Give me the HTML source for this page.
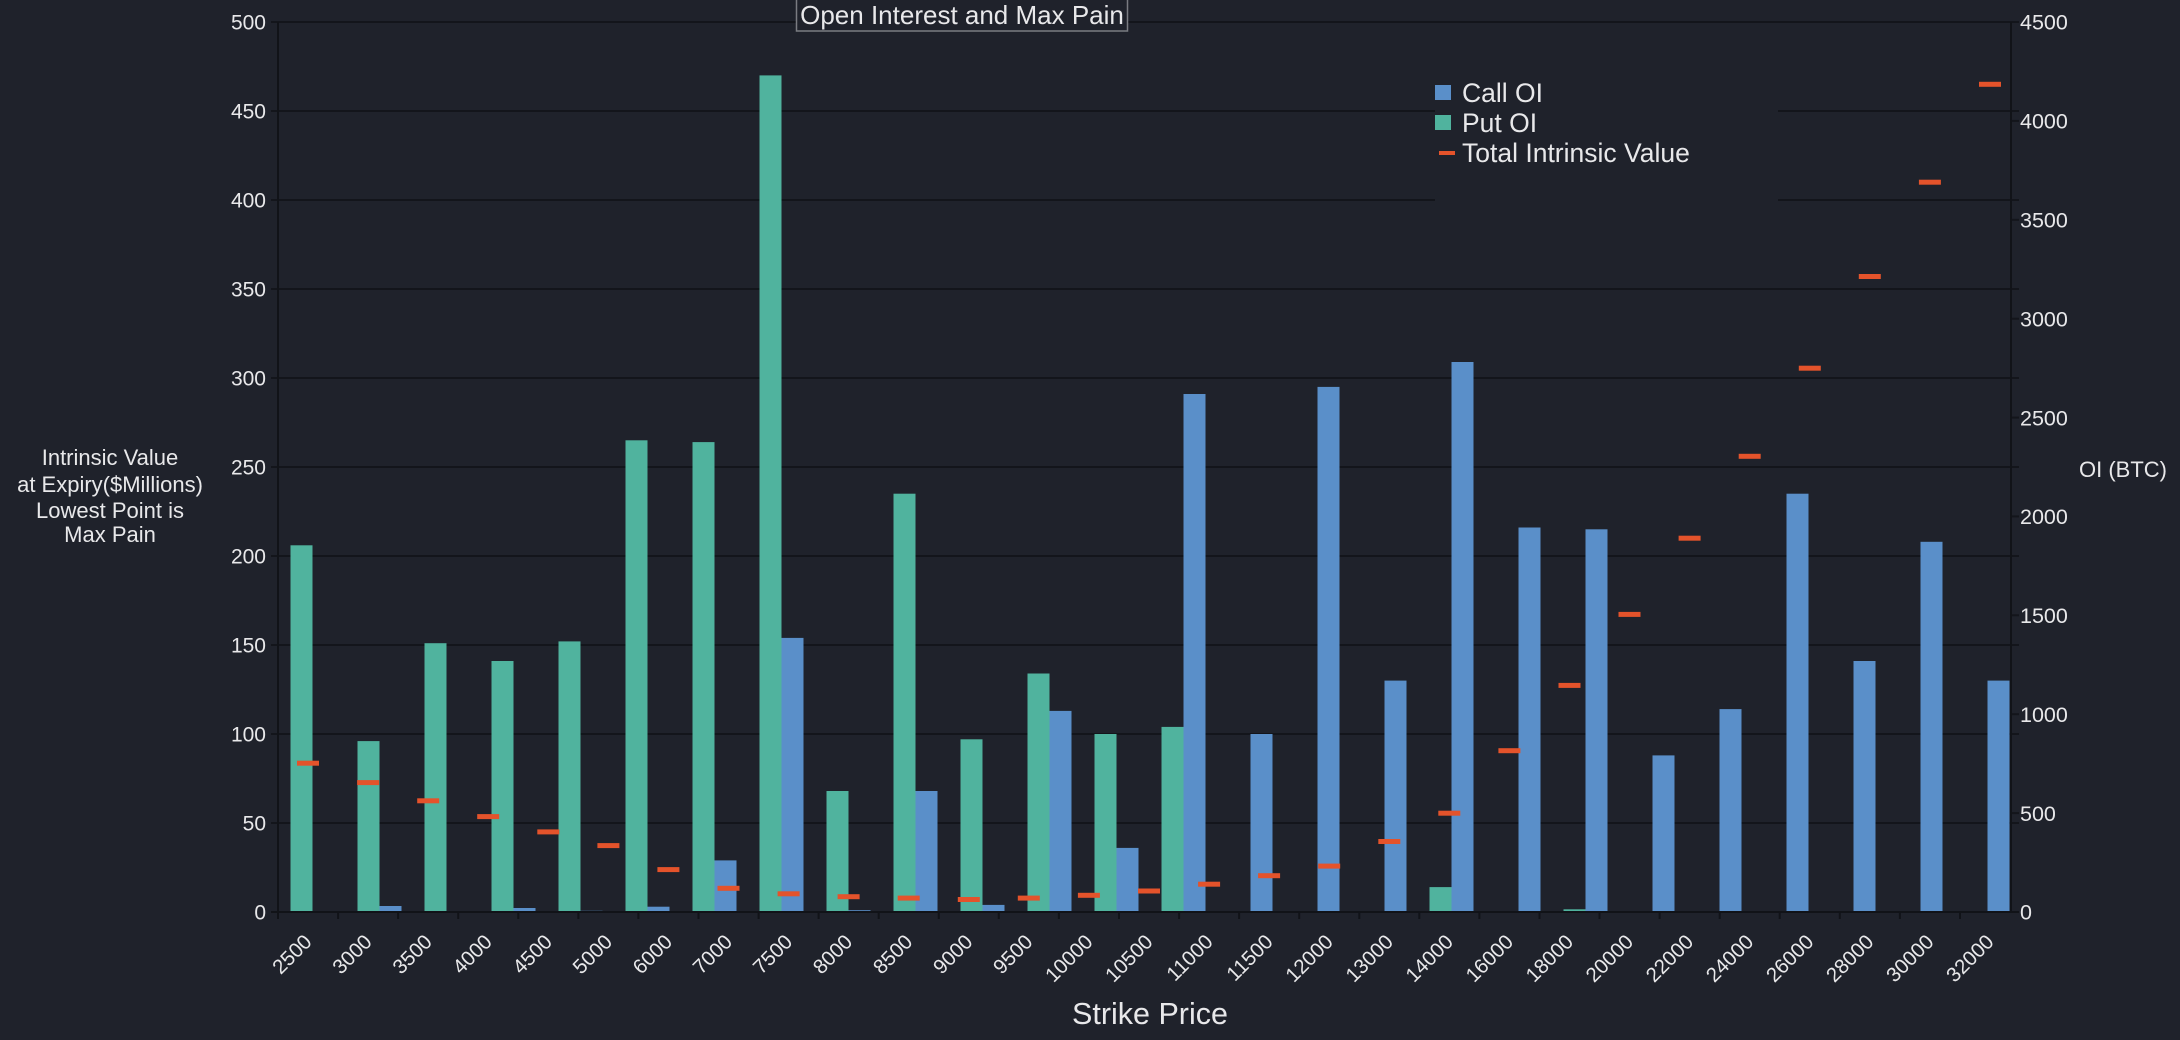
<!DOCTYPE html>
<html><head><meta charset="utf-8"><style>
html,body{margin:0;padding:0;background:#1f222b;}
svg{display:block;}
text{font-family:"Liberation Sans",Arial,sans-serif;fill:#e8e8ea;}
</style></head><body>
<svg width="2180" height="1040" viewBox="0 0 2180 1040" xmlns="http://www.w3.org/2000/svg">
<rect x="0" y="0" width="2180" height="1040" fill="#1f222b"/>
<!-- gridlines -->
<g stroke="#13151b" stroke-width="2">
<line x1="271" y1="823" x2="2019" y2="823"/>
<line x1="271" y1="734" x2="2019" y2="734"/>
<line x1="271" y1="645" x2="2019" y2="645"/>
<line x1="271" y1="556" x2="2019" y2="556"/>
<line x1="271" y1="467" x2="2019" y2="467"/>
<line x1="271" y1="378" x2="2019" y2="378"/>
<line x1="271" y1="289" x2="2019" y2="289"/>
<line x1="271" y1="200" x2="2019" y2="200"/>
<line x1="271" y1="111" x2="2019" y2="111"/>
<line x1="271" y1="22" x2="2019" y2="22"/>
</g>
<!-- right ticks -->
<g stroke="#13151b" stroke-width="2">
<line x1="2011" y1="813.1" x2="2019" y2="813.1"/>
<line x1="2011" y1="714.2" x2="2019" y2="714.2"/>
<line x1="2011" y1="615.3" x2="2019" y2="615.3"/>
<line x1="2011" y1="516.4" x2="2019" y2="516.4"/>
<line x1="2011" y1="417.6" x2="2019" y2="417.6"/>
<line x1="2011" y1="318.7" x2="2019" y2="318.7"/>
<line x1="2011" y1="219.8" x2="2019" y2="219.8"/>
<line x1="2011" y1="120.9" x2="2019" y2="120.9"/>
</g>
<!-- legend box background -->
<rect x="1435" y="60" width="343" height="150" fill="#1f222b"/>
<!-- Put OI (green) -->
<g fill="#50b39e">
<rect x="290.5" y="545.3" width="22" height="366.7"/>
<rect x="357.5" y="741.1" width="22" height="170.9"/>
<rect x="424.5" y="643.2" width="22" height="268.8"/>
<rect x="491.5" y="661" width="22" height="251"/>
<rect x="558.5" y="641.4" width="22" height="270.6"/>
<rect x="625.5" y="440.3" width="22" height="471.7"/>
<rect x="692.5" y="442.1" width="22" height="469.9"/>
<rect x="759.5" y="75.4" width="22" height="836.6"/>
<rect x="826.5" y="791" width="22" height="121"/>
<rect x="893.5" y="493.7" width="22" height="418.3"/>
<rect x="960.5" y="739.3" width="22" height="172.7"/>
<rect x="1027.5" y="673.5" width="22" height="238.5"/>
<rect x="1094.5" y="734" width="22" height="178"/>
<rect x="1161.5" y="726.9" width="22" height="185.1"/>
<rect x="1362.5" y="911" width="22" height="1"/>
<rect x="1429.5" y="887.1" width="22" height="24.9"/>
<rect x="1496.5" y="911" width="22" height="1"/>
<rect x="1563.5" y="909.3" width="22" height="2.7"/>
<rect x="1630.5" y="911" width="22" height="1"/>
</g>
<!-- Call OI (blue) -->
<g fill="#5a8fc9">
<rect x="379.5" y="906" width="22" height="6"/>
<rect x="513.5" y="908" width="22" height="4"/>
<rect x="580.5" y="910.8" width="22" height="1.2"/>
<rect x="647.5" y="906.7" width="22" height="5.3"/>
<rect x="714.5" y="860.4" width="22" height="51.6"/>
<rect x="781.5" y="637.9" width="22" height="274.1"/>
<rect x="848.5" y="910.2" width="22" height="1.8"/>
<rect x="915.5" y="791" width="22" height="121"/>
<rect x="982.5" y="904.9" width="22" height="7.1"/>
<rect x="1049.5" y="710.9" width="22" height="201.1"/>
<rect x="1116.5" y="847.9" width="22" height="64.1"/>
<rect x="1183.5" y="394" width="22" height="518"/>
<rect x="1250.5" y="734" width="22" height="178"/>
<rect x="1317.5" y="386.9" width="22" height="525.1"/>
<rect x="1384.5" y="680.6" width="22" height="231.4"/>
<rect x="1451.5" y="362" width="22" height="550"/>
<rect x="1518.5" y="527.5" width="22" height="384.5"/>
<rect x="1585.5" y="529.3" width="22" height="382.7"/>
<rect x="1652.5" y="755.4" width="22" height="156.6"/>
<rect x="1719.5" y="709.1" width="22" height="202.9"/>
<rect x="1786.5" y="493.7" width="22" height="418.3"/>
<rect x="1853.5" y="661" width="22" height="251"/>
<rect x="1920.5" y="541.8" width="22" height="370.2"/>
<rect x="1987.5" y="680.6" width="22" height="231.4"/>
</g>
<!-- Total Intrinsic Value dashes -->
<g fill="#e4532b">
<rect x="297.0" y="760.7" width="22" height="5"/>
<rect x="357.1" y="780.1" width="22" height="5"/>
<rect x="417.2" y="798.3" width="22" height="5"/>
<rect x="477.2" y="814.1" width="22" height="5"/>
<rect x="537.3" y="829.4" width="22" height="5"/>
<rect x="597.4" y="843.1" width="22" height="5"/>
<rect x="657.4" y="867.1" width="22" height="5"/>
<rect x="717.5" y="885.8" width="22" height="5"/>
<rect x="777.6" y="891.3" width="22" height="5"/>
<rect x="837.6" y="894.2" width="22" height="5"/>
<rect x="897.7" y="895.6" width="22" height="5"/>
<rect x="957.8" y="897.0" width="22" height="5"/>
<rect x="1017.8" y="895.6" width="22" height="5"/>
<rect x="1077.9" y="892.8" width="22" height="5"/>
<rect x="1138.0" y="888.5" width="22" height="5"/>
<rect x="1198.1" y="881.7" width="22" height="5"/>
<rect x="1258.1" y="873.2" width="22" height="5"/>
<rect x="1318.2" y="863.6" width="22" height="5"/>
<rect x="1378.3" y="839.0" width="22" height="5"/>
<rect x="1438.3" y="810.7" width="22" height="5"/>
<rect x="1498.4" y="748.2" width="22" height="5"/>
<rect x="1558.5" y="682.9" width="22" height="5"/>
<rect x="1618.5" y="611.9" width="22" height="5"/>
<rect x="1678.6" y="535.7" width="22" height="5"/>
<rect x="1738.7" y="453.8" width="22" height="5"/>
<rect x="1798.8" y="365.7" width="22" height="5"/>
<rect x="1858.8" y="274.0" width="22" height="5"/>
<rect x="1918.9" y="179.7" width="22" height="5"/>
<rect x="1979.0" y="81.8" width="22" height="5"/>
</g>
<!-- axes -->
<g stroke="#111318" stroke-width="2">
<line x1="278" y1="22" x2="278" y2="913"/>
<line x1="2011" y1="22" x2="2011" y2="913"/>
<line x1="271" y1="912" x2="2019" y2="912"/>
</g>
<!-- x ticks -->
<g stroke="#111318" stroke-width="2">
<line x1="278" y1="912" x2="278" y2="919"/>
<line x1="338.1" y1="912" x2="338.1" y2="919"/>
<line x1="398.1" y1="912" x2="398.1" y2="919"/>
<line x1="458.2" y1="912" x2="458.2" y2="919"/>
<line x1="518.3" y1="912" x2="518.3" y2="919"/>
<line x1="578.4" y1="912" x2="578.4" y2="919"/>
<line x1="638.4" y1="912" x2="638.4" y2="919"/>
<line x1="698.5" y1="912" x2="698.5" y2="919"/>
<line x1="758.6" y1="912" x2="758.6" y2="919"/>
<line x1="818.6" y1="912" x2="818.6" y2="919"/>
<line x1="878.7" y1="912" x2="878.7" y2="919"/>
<line x1="938.8" y1="912" x2="938.8" y2="919"/>
<line x1="998.8" y1="912" x2="998.8" y2="919"/>
<line x1="1058.9" y1="912" x2="1058.9" y2="919"/>
<line x1="1119.0" y1="912" x2="1119.0" y2="919"/>
<line x1="1179.1" y1="912" x2="1179.1" y2="919"/>
<line x1="1239.1" y1="912" x2="1239.1" y2="919"/>
<line x1="1299.2" y1="912" x2="1299.2" y2="919"/>
<line x1="1359.3" y1="912" x2="1359.3" y2="919"/>
<line x1="1419.3" y1="912" x2="1419.3" y2="919"/>
<line x1="1479.4" y1="912" x2="1479.4" y2="919"/>
<line x1="1539.5" y1="912" x2="1539.5" y2="919"/>
<line x1="1599.5" y1="912" x2="1599.5" y2="919"/>
<line x1="1659.6" y1="912" x2="1659.6" y2="919"/>
<line x1="1719.7" y1="912" x2="1719.7" y2="919"/>
<line x1="1779.7" y1="912" x2="1779.7" y2="919"/>
<line x1="1839.8" y1="912" x2="1839.8" y2="919"/>
<line x1="1899.9" y1="912" x2="1899.9" y2="919"/>
<line x1="1960.0" y1="912" x2="1960.0" y2="919"/>
</g>
<!-- left tick labels -->
<g font-size="21" text-anchor="end">
<text x="266" y="919.5">0</text>
<text x="266" y="830.5">50</text>
<text x="266" y="741.5">100</text>
<text x="266" y="652.5">150</text>
<text x="266" y="563.5">200</text>
<text x="266" y="474.5">250</text>
<text x="266" y="385.5">300</text>
<text x="266" y="296.5">350</text>
<text x="266" y="207.5">400</text>
<text x="266" y="118.5">450</text>
<text x="266" y="29.5">500</text>
</g>
<!-- right tick labels -->
<g font-size="21.5">
<text x="2020" y="919.7">0</text>
<text x="2020" y="820.8">500</text>
<text x="2020" y="721.9">1000</text>
<text x="2020" y="623">1500</text>
<text x="2020" y="524.1">2000</text>
<text x="2020" y="425.3">2500</text>
<text x="2020" y="326.4">3000</text>
<text x="2020" y="227.5">3500</text>
<text x="2020" y="128.6">4000</text>
<text x="2020" y="29.7">4500</text>
</g>
<!-- x labels -->
<g font-size="20.5" text-anchor="end">
<text transform="translate(313.0,943) rotate(-45)">2500</text>
<text transform="translate(373.1,943) rotate(-45)">3000</text>
<text transform="translate(433.2,943) rotate(-45)">3500</text>
<text transform="translate(493.2,943) rotate(-45)">4000</text>
<text transform="translate(553.3,943) rotate(-45)">4500</text>
<text transform="translate(613.4,943) rotate(-45)">5000</text>
<text transform="translate(673.4,943) rotate(-45)">6000</text>
<text transform="translate(733.5,943) rotate(-45)">7000</text>
<text transform="translate(793.6,943) rotate(-45)">7500</text>
<text transform="translate(853.6,943) rotate(-45)">8000</text>
<text transform="translate(913.7,943) rotate(-45)">8500</text>
<text transform="translate(973.8,943) rotate(-45)">9000</text>
<text transform="translate(1033.8,943) rotate(-45)">9500</text>
<text transform="translate(1093.9,943) rotate(-45)">10000</text>
<text transform="translate(1154.0,943) rotate(-45)">10500</text>
<text transform="translate(1214.1,943) rotate(-45)">11000</text>
<text transform="translate(1274.1,943) rotate(-45)">11500</text>
<text transform="translate(1334.2,943) rotate(-45)">12000</text>
<text transform="translate(1394.3,943) rotate(-45)">13000</text>
<text transform="translate(1454.3,943) rotate(-45)">14000</text>
<text transform="translate(1514.4,943) rotate(-45)">16000</text>
<text transform="translate(1574.5,943) rotate(-45)">18000</text>
<text transform="translate(1634.5,943) rotate(-45)">20000</text>
<text transform="translate(1694.6,943) rotate(-45)">22000</text>
<text transform="translate(1754.7,943) rotate(-45)">24000</text>
<text transform="translate(1814.8,943) rotate(-45)">26000</text>
<text transform="translate(1874.8,943) rotate(-45)">28000</text>
<text transform="translate(1934.9,943) rotate(-45)">30000</text>
<text transform="translate(1995.0,943) rotate(-45)">32000</text>
</g>
<!-- axis titles -->
<text x="1150" y="1024" font-size="30.5" text-anchor="middle">Strike Price</text>
<g font-size="22" text-anchor="middle">
<text x="110" y="465">Intrinsic Value</text>
<text x="110" y="492">at Expiry($Millions)</text>
<text x="110" y="518">Lowest Point is</text>
<text x="110" y="542">Max Pain</text>
</g>
<text x="2123" y="477" font-size="22" text-anchor="middle">OI (BTC)</text>
<!-- title -->
<rect x="796.5" y="-1" width="331" height="32" fill="#1f222b" stroke="#7a7c82" stroke-width="1.5"/>
<text x="962" y="24" font-size="26" text-anchor="middle">Open Interest and Max Pain</text>
<!-- legend -->
<rect x="1435" y="85" width="16" height="15" fill="#5a8fc9"/>
<text x="1462" y="102" font-size="26.5">Call OI</text>
<rect x="1435" y="115" width="16" height="15" fill="#50b39e"/>
<text x="1462" y="132" font-size="26.5">Put OI</text>
<rect x="1439" y="151" width="16" height="4" fill="#e4532b"/>
<text x="1462" y="162" font-size="26.5">Total Intrinsic Value</text>
</svg>
</body></html>
